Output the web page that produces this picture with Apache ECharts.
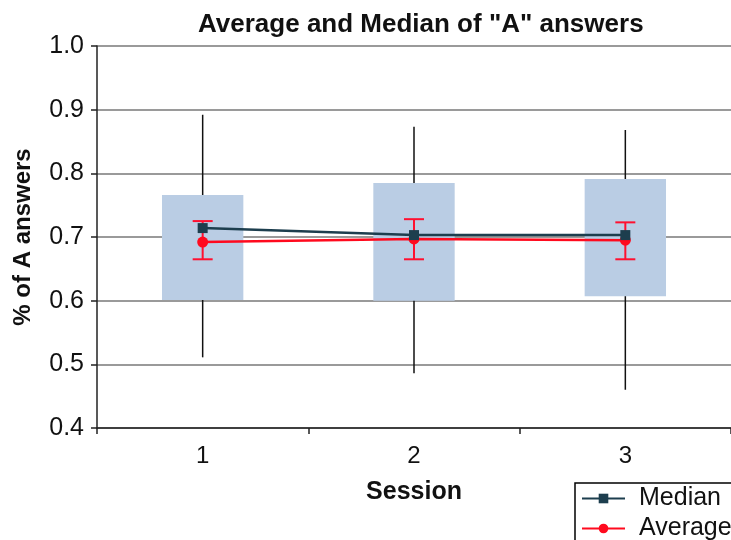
<!DOCTYPE html>
<html>
<head>
    <meta charset="utf-8" />
    <title></title>
    <script type="text/javascript" src="https://cdn.jsdelivr.net/npm/echarts@6/dist/echarts.min.js"></script>
    <style>
        html, body { margin: 0; padding: 0; background: #fff; }
        #con1 { width: 731px; height: 540px; }
    </style>
</head>
<body>
    <div id="con1"></div>
    <script type="text/javascript">
        var sessions = ['1', '2', '3'];
        var whiskerMin = [0.511, 0.486, 0.460];
        var whiskerMax = [0.892, 0.873, 0.868];
        var boxLow = [0.601, 0.600, 0.607];
        var boxHigh = [0.766, 0.785, 0.791];
        var median = [0.714, 0.703, 0.703];
        var average = [0.692, 0.697, 0.695];
        var errLow = [0.665, 0.665, 0.665];
        var errHigh = [0.725, 0.728, 0.723];

        var font = "'Liberation Sans', Arial, sans-serif";

        var whiskerData = [], boxData = [], errData = [];
        for (var i = 0; i < sessions.length; i++) {
            whiskerData.push([i, whiskerMin[i], whiskerMax[i]]);
            boxData.push([i, boxLow[i], boxHigh[i]]);
            errData.push([i, errLow[i], errHigh[i]]);
        }

        var myChart1 = echarts.init(document.getElementById('con1'), null, { renderer: 'canvas' });
        var option1 = {
            backgroundColor: '#fff',
            animation: false,
            textStyle: { fontFamily: font },
            title: {
                text: 'Average and Median of "A" answers',
                left: 198,
                top: 12,
                padding: 0,
                textStyle: { fontSize: 26, fontWeight: 'bold', color: '#111', fontFamily: font }
            },
            legend: {
                orient: 'vertical',
                left: 575,
                top: 483,
                width: 200,
                height: 90,
                data: ['Median', 'Average'],
                itemWidth: 43,
                itemHeight: 12,
                itemGap: 5,
                padding: [3, 14, 6, 6],
                borderColor: '#000',
                borderWidth: 1.5,
                backgroundColor: '#fff',
                textStyle: { fontSize: 25, color: '#111', fontFamily: font, padding: [0, 0, 0, 9] }
            },
            grid: { left: 97, top: 46, width: 642, height: 382 },
            xAxis: {
                type: 'category',
                data: sessions,
                boundaryGap: true,
                name: 'Session',
                nameLocation: 'middle',
                nameGap: 52,
                nameTextStyle: { fontSize: 25, fontWeight: 'bold', color: '#111' },
                axisLine: { lineStyle: { color: '#222', width: 1.5 } },
                axisTick: { show: true, length: 6, lineStyle: { color: '#222', width: 1.5 } },
                axisLabel: { fontSize: 24, color: '#111', margin: 16 },
                splitLine: { show: false }
            },
            yAxis: {
                type: 'value',
                min: 0.4,
                max: 1.0,
                interval: 0.1,
                name: '% of A answers',
                nameLocation: 'middle',
                nameGap: 62,
                nameTextStyle: { fontSize: 24, fontWeight: 'bold', color: '#111' },
                axisLine: { show: true, lineStyle: { color: '#222', width: 1.5 } },
                axisTick: { show: true, length: 6, lineStyle: { color: '#222', width: 1.5 } },
                axisLabel: {
                    fontSize: 25, color: '#111', margin: 13,
                    formatter: function (v) { return v.toFixed(1); }
                },
                splitLine: { lineStyle: { color: '#9a9a9a', width: 2 } }
            },
            series: [{
                name: 'range',
                type: 'custom',
                data: whiskerData,
                z: 2,
                renderItem: function (params, api) {
                    var lo = api.coord([api.value(0), api.value(1)]);
                    var hi = api.coord([api.value(0), api.value(2)]);
                    return {
                        type: 'line',
                        shape: { x1: lo[0], y1: lo[1], x2: hi[0], y2: hi[1] },
                        style: { stroke: '#111', lineWidth: 1.5 }
                    };
                }
            },
            {
                name: 'box',
                type: 'custom',
                data: boxData,
                z: 3,
                renderItem: function (params, api) {
                    var lo = api.coord([api.value(0), api.value(1)]);
                    var hi = api.coord([api.value(0), api.value(2)]);
                    var w = api.size([1, 0])[0] * 0.385;
                    return {
                        type: 'rect',
                        shape: { x: lo[0] - w / 2, y: hi[1], width: w, height: lo[1] - hi[1] },
                        style: { fill: '#bacde4' }
                    };
                }
            },
            {
                name: 'error',
                type: 'custom',
                data: errData,
                z: 4,
                renderItem: function (params, api) {
                    var lo = api.coord([api.value(0), api.value(1)]);
                    var hi = api.coord([api.value(0), api.value(2)]);
                    var c = 10;
                    var st = { stroke: '#ff1030', lineWidth: 2 };
                    return {
                        type: 'group',
                        children: [
                            { type: 'line', shape: { x1: lo[0], y1: lo[1], x2: hi[0], y2: hi[1] }, style: st },
                            { type: 'line', shape: { x1: lo[0] - c, y1: lo[1], x2: lo[0] + c, y2: lo[1] }, style: st },
                            { type: 'line', shape: { x1: hi[0] - c, y1: hi[1], x2: hi[0] + c, y2: hi[1] }, style: st }
                        ]
                    };
                }
            },
            {
                name: 'Average',
                type: 'line',
                data: average,
                z: 5,
                color: '#ff0a1e',
                symbol: 'circle',
                symbolSize: 11,
                lineStyle: { width: 2.5 },
                itemStyle: { color: '#ff0a1e' }
            },
            {
                name: 'Median',
                type: 'line',
                data: median,
                z: 6,
                color: '#1d3e4e',
                symbol: 'rect',
                symbolSize: 10,
                lineStyle: { width: 2.5 },
                itemStyle: { color: '#1d3e4e' }
            }]
        };
        option1 && myChart1.setOption(option1);
    </script>
</body>
</html>
